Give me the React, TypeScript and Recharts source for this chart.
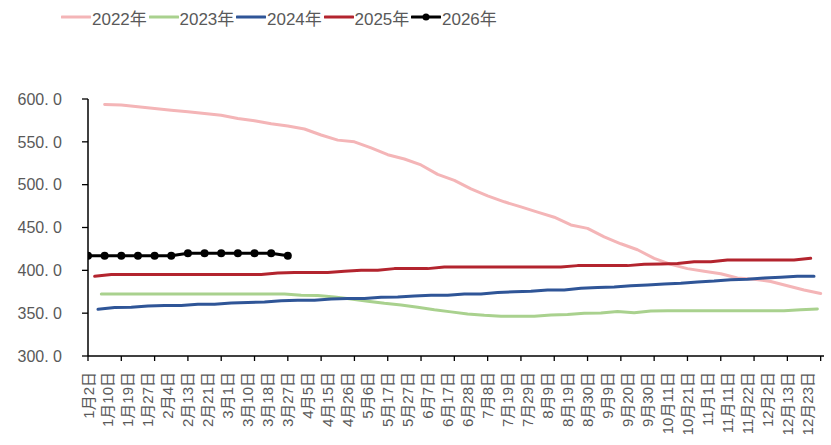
import React from 'react';
import { LineChart, Line, XAxis, YAxis, Legend } from 'recharts';

// x labels shown under the axis (one every 6 trading days)
const dateLabels = [
  '1月2日', '1月10日', '1月19日', '1月27日', '2月4日', '2月13日', '2月21日', '3月1日',
  '3月10日', '3月18日', '3月27日', '4月5日', '4月15日', '4月26日', '5月6日', '5月17日',
  '5月27日', '6月7日', '6月17日', '6月28日', '7月8日', '7月19日', '7月29日', '8月9日',
  '8月19日', '8月30日', '9月9日', '9月20日', '9月30日', '10月11日', '10月21日', '11月1日',
  '11月11日', '11月22日', '12月2日', '12月13日', '12月23日',
];

const yTicks = [300, 350, 400, 450, 500, 550, 600];

// weekly values, one per week
const y2022 = [
  593.5, 593, 591, 589, 587, 585, 583, 581, 577.3, 574.5, 571, 568.5, 565, 558, 552, 550,
  543, 535, 530, 523, 512, 505, 495, 487, 480, 474, 468, 462, 453, 449, 439, 431,
  424, 414, 407, 402, 399, 396, 391, 389.5, 387, 382, 377, 373,
];
const y2023 = [
  372.5, 372.5, 372.5, 372.5, 372.5, 372.5, 372.5, 372.5, 372.5, 372.5, 372.5, 372.5, 371, 370.5, 369, 366.5,
  364, 361.5, 359.5, 357, 354, 351.5, 349, 347.5, 346.5, 346.5, 346.5, 348, 348.5, 350, 350.3, 352,
  350.5, 352.5, 352.7, 352.7, 352.7, 352.7, 352.7, 352.7, 352.7, 352.7, 354, 355,
];
const y2024 = [
  354.5, 356.5, 357, 358.5, 359, 359, 360.5, 360.5, 362, 362.5, 363, 364.5, 365, 365, 366.5, 367,
  367, 368.5, 369, 370, 371, 371, 372.5, 372.5, 374, 375, 375.5, 377, 377, 379, 380, 380.5,
  382, 383, 384, 385, 386.5, 387.5, 389, 389.5, 391, 392, 393, 393,
];
const y2025 = [
  393, 395, 395, 395, 395, 395, 395, 395, 395, 395, 395, 397, 397.5, 397.5, 397.5, 399,
  400, 400, 402, 402, 402, 404, 404, 404, 404, 404, 404, 404, 404, 405.5, 405.5, 405.5,
  405.5, 407, 407.5, 408, 410, 410, 412, 412, 412, 412, 412, 414,
];
const y2026 = [417, 417, 417, 417, 417, 417, 420, 420, 420, 420, 420, 420, 417];

// first trading-day index of each year's weekly series
const startIndex = { y2022: 5, y2023: 4, y2024: 3, y2025: 2, y2026: 0 };

const toPoints = (vals: number[], start: number) =>
  vals.map((v, i) => ({ x: start + i * 5, v }));

const series = [
  { name: '2022年', color: '#F4B5B7', data: toPoints(y2022, startIndex.y2022), dot: false },
  { name: '2023年', color: '#A9D18E', data: toPoints(y2023, startIndex.y2023), dot: false },
  { name: '2024年', color: '#2F5597', data: toPoints(y2024, startIndex.y2024), dot: false },
  { name: '2025年', color: '#B3242E', data: toPoints(y2025, startIndex.y2025), dot: false },
  { name: '2026年', color: '#000000', data: toPoints(y2026, startIndex.y2026), dot: true },
];

const xTicks: number[] = [];
for (let i = 0; i <= 220; i += 2) xTicks.push(i);

const GRAY = '#595959';

const XTick = ({ x, y, payload }: any) => {
  const v = payload.value;
  const showMark = v % 10 === 0;
  const idx = v / 6;
  const label = v % 6 === 0 ? dateLabels[idx] : null;
  return (
    <g>
      {showMark && <line x1={x} y1={y} x2={x} y2={y + 5} stroke="#000" strokeWidth={1.3} />}
      {label && (
        <text
          transform={`translate(${x},${y + 16}) rotate(-90)`}
          textAnchor="end"
          dominantBaseline="central"
          fill={GRAY}
          fontSize={15}
          fontFamily="'Liberation Sans', 'Noto Sans CJK SC', sans-serif"
        >
          {label}
        </text>
      )}
    </g>
  );
};

const renderLegend = () => (
  <div style={{ display: 'flex', paddingLeft: 61, height: 34, alignItems: 'center' }}>
    {series.map((s) => (
      <div key={s.name} style={{ display: 'flex', alignItems: 'center', width: 87.5 }}>
        <svg width={30} height={12}>
          <line x1={1} y1={6} x2={29} y2={6} stroke={s.color} strokeWidth={3} strokeLinecap="round" />
          {s.dot && <circle cx={15} cy={6} r={3.5} fill={s.color} />}
        </svg>
        <span
          style={{
            marginLeft: 1,
            color: GRAY,
            fontSize: 17,
            fontFamily: "'Liberation Sans Narrow', 'Liberation Sans', 'Noto Sans CJK SC', sans-serif",
          }}
        >
          {s.name}
        </span>
      </div>
    ))}
  </div>
);

export default function App() {
  return (
    <div style={{ position: 'absolute', left: 0, top: 0, width: 831, height: 445, background: '#fff' }}>
      <LineChart width={831} height={445} margin={{ top: 99, right: 7, bottom: 0, left: 0 }}>
        <Legend
          content={renderLegend}
          layout="horizontal"
          verticalAlign="middle"
          wrapperStyle={{ top: 0, left: 0, width: 831 }}
        />
        <XAxis
          type="number"
          dataKey="x"
          domain={[0, 221]}
          ticks={xTicks}
          interval={0}
          allowDataOverflow
          height={89}
          tickSize={0}
          tickMargin={0}
          tickLine={false}
          tick={<XTick />}
          axisLine={{ stroke: '#000', strokeWidth: 1.5 }}
        />
        <YAxis
          type="number"
          domain={[300, 600]}
          ticks={yTicks}
          interval={0}
          width={88}
          tickSize={6}
          tickMargin={20}
          tickFormatter={(v: number) => v.toFixed(1).replace('.', '. ')}
          tick={{ fill: GRAY, fontSize: 16, fontFamily: "'Liberation Sans', sans-serif" }}
          tickLine={{ stroke: '#000', strokeWidth: 1.3 }}
          axisLine={{ stroke: '#000', strokeWidth: 1.5 }}
        />
        {series.map((s) => (
          <Line
            key={s.name}
            name={s.name}
            data={s.data}
            dataKey="v"
            type="linear"
            stroke={s.color}
            strokeWidth={3}
            strokeLinecap="round"
            strokeLinejoin="round"
            dot={s.dot ? { r: 4, fill: '#000', stroke: '#000', strokeWidth: 0 } : false}
            activeDot={false}
            isAnimationActive={false}
          />
        ))}
      </LineChart>
    </div>
  );
}
